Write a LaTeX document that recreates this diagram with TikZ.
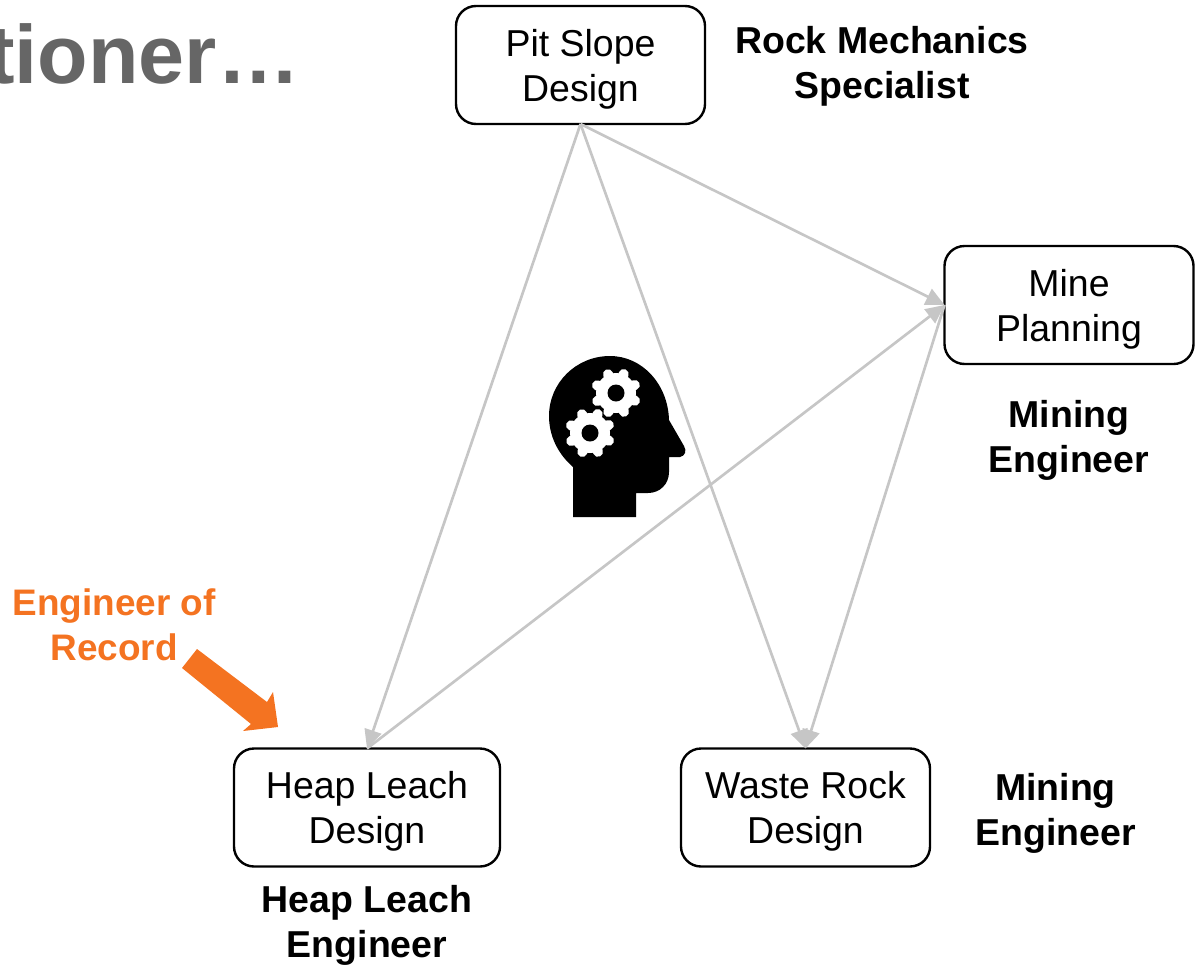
\documentclass[tikz,border=0pt]{standalone}
\usepackage{fontspec}
\setmainfont{Liberation Sans}
\usepackage{xcolor}
\usetikzlibrary{arrows.meta}
\definecolor{eorange}{HTML}{F47321}
\definecolor{linkgray}{HTML}{C6C6C6}
\definecolor{titlegray}{HTML}{666666}
\tikzset{
  task/.style={draw=black, line width=1.8pt, rounded corners=15pt, align=center, outer sep=0pt, inner sep=0pt, minimum width=186.75pt, minimum height=88.5pt, font=\fontsize{28.1}{33.75}\selectfont},
  role/.style={align=center, inner sep=0pt, font=\fontsize{28.1}{33.75}\selectfont\bfseries},
  link/.style={draw=linkgray, line width=2pt, -{Triangle[length=14pt,width=13pt]}}
}
\newcommand{\toplift}{\rule{0pt}{26.5pt}}
\newcommand{\gearicon}[2]{
  \fill[white] (#1,#2) circle (20);
  \foreach \a in {0,45,...,315}
    \draw[white, line width=7.5pt, line cap=round] (#1,#2) ++(\a+22:17) -- ++(\a+22:3.5);
  \fill[black] (#1,#2) circle (8.5);
}
\begin{document}
\begin{tikzpicture}[x=0.75pt,y=-0.75pt]
\useasboundingbox (0,0) rectangle (1201,964);
\begin{scope}
  \clip (0,0) rectangle (1201,964);
  \node[anchor=base east, inner sep=0pt, text=titlegray, font=\fontsize{62}{70}\selectfont\bfseries] (title) at (300,83) {tioner…};
\end{scope}
% boxes
\node[task] (pit) at (580.5,65) {\toplift Pit Slope\\Design};
\node[task] (mine) at (1069,305) {\toplift Mine\\Planning};
\node[task, minimum width=199.5pt] (heap) at (367,807.5) {\toplift Heap Leach\\Design};
\node[task] (waste) at (805.5,807.5) {\toplift Waste Rock\\Design};
% who does it
\node[role] (pitrole) at (882,66) {Rock Mechanics\\Specialist};
\node[role] (minerole) at (1069,440.5) {Mining\\Engineer};
\node[role] (wasterole) at (1055.5,813) {Mining\\Engineer};
\node[role] (heaprole) at (367,925) {Heap Leach\\Engineer};
\node[role, text=eorange, font=\fontsize{27.7}{33.75}\selectfont\bfseries] (eor) at (114,625) {Engineer of\\Record};
% links
\draw[link] (pit.south) -- (heap.north);
\draw[link] (pit.south) -- (waste.north);
\draw[link] (pit.south) -- (mine.west);
\draw[link] (heap.north) -- (mine.west);
\draw[link] (mine.west) -- (waste.north);
% block arrow
\fill[eorange] (197,649) -- (267,702) -- (273,692) -- (278,727) -- (243,731) -- (251,724) -- (182,668) -- cycle;
% head
\fill[black] (573,517) -- (636,517) -- (636,493) -- (648,493) .. controls (660,493) and (669,484) .. (669,472)
  -- (669,457) -- (680,457) .. controls (685,456) and (687,451) .. (684,446) -- (669,420)
  .. controls (668,384) and (642,356) .. (610,356) .. controls (576,356) and (549,383) .. (549,416)
  .. controls (549,436) and (558,454) .. (573,467) -- cycle;
\gearicon{616}{393}
\gearicon{590}{433}
\end{tikzpicture}
\end{document}
